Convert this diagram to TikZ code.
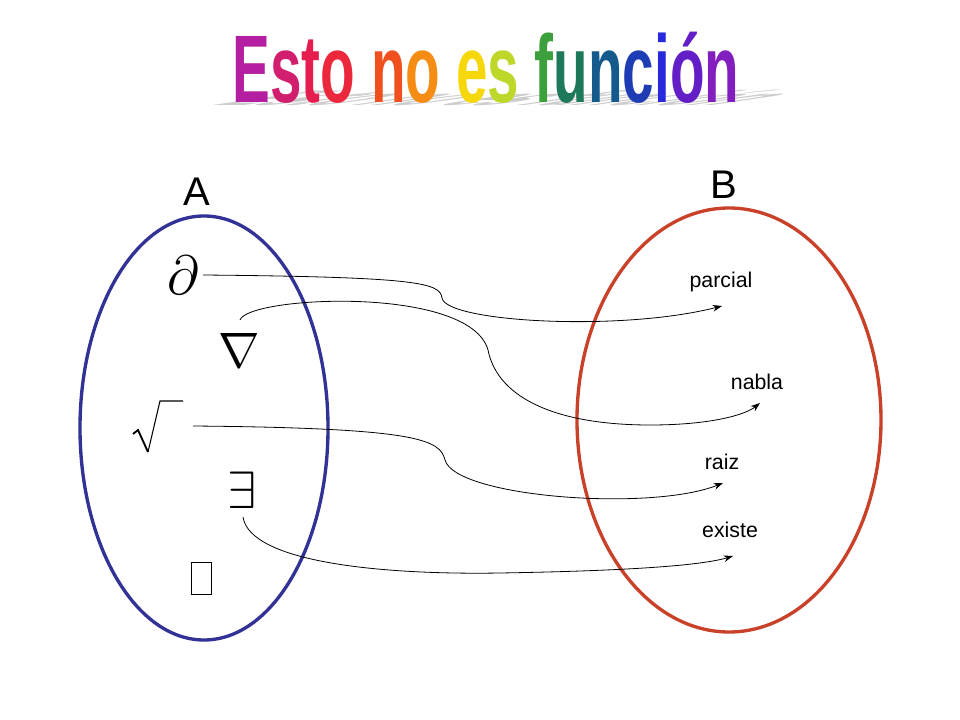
\documentclass[tikz,border=0pt]{standalone}
\usepackage{fontspec}
\setmainfont{Liberation Sans}
\usetikzlibrary{arrows.meta}
\definecolor{ablue}{RGB}{50,50,150}
\definecolor{bred}{RGB}{200,65,40}
\newcommand{\ttl}[1]{{\fontsize{72}{72}\selectfont\bfseries #1}}
\newcommand{\colttl}{\ttl{\color[RGB]{180,30,160}E\color[RGB]{210,30,110}s\color[RGB]{230,30,80}t\color[RGB]{235,40,60}o\ \color[RGB]{240,80,30}n\color[RGB]{245,140,20}o\ \color[RGB]{245,215,10}e\color[RGB]{190,215,40}s\ \color[RGB]{60,160,60}f\color[RGB]{30,120,90}u\color[RGB]{20,90,140}n\color[RGB]{30,60,180}c\color[RGB]{40,40,220}i\color[RGB]{100,30,200}ó\color[RGB]{130,30,190}n}}
\tikzset{
  conn/.style={black,line width=0.6pt,-{Stealth[length=7pt,width=5pt]}},
  setlab/.style={font=\fontsize{30}{30}\selectfont},
  elem/.style={font=\fontsize{16}{16}\selectfont},
  sym/.style={font=\fontsize{20}{20}\selectfont}
}
\begin{document}
\begin{tikzpicture}[x=0.75pt,y=-0.75pt]
\useasboundingbox (0,0) rectangle (960,720);
\fill[white] (0,0) rectangle (960,720);
% title
\node[anchor=base,text=gray!40,inner sep=0] (tsh) at (462,106) [xscale=0.59,yscale=0.22,xslant=2.6] {\ttl{Esto no es función}};
\node[anchor=base,inner sep=0] (title) at (486,103) [xscale=0.59] {\colttl};
% sets
\draw[ablue,line width=2.5pt] (204,428) ellipse [x radius=124, y radius=212];
\draw[bred,line width=2.5pt] (729,420) ellipse [x radius=152, y radius=212];
\node[setlab] (A) at (197,192) {A};
\node[setlab] (B) at (724,185) {B};
% elements of A
\node[sym] (d) at (183,275) {\scalebox{2}{$\partial$}};
\node[sym] (nab) at (239,350) {\scalebox{1.8}{$\nabla$}};
\draw[line width=1.4pt] (133,434) -- (138,430) -- (148,452);
\draw[line width=0.8pt] (148,452) -- (160,401) -- (183,401);
\coordinate (sq) at (155,425);
\node[sym] (ex) at (242,490) {\scalebox{1.9}{$\exists$}};
\node[draw,line width=0.5pt,minimum width=15pt,minimum height=24pt,inner sep=0] (box) at (201,578) {};
% elements of B
\node[elem] (par) at (721,282) {parcial};
\node[elem] (nb) at (757,382) {nabla};
\node[elem] (rz) at (722,462) {raiz};
\node[elem] (es) at (730,530) {existe};
% connectors
\coordinate (c1) at (203,275);
\coordinate (e1) at (722,306);
\draw[conn] (c1) .. controls (420,277) and (440,283) .. (442,298) .. controls (446,322) and (620,332) .. (e1);
\coordinate (c2) at (240,320);
\coordinate (e2) at (760,403);
\draw[conn] (c2) .. controls (248,296) and (470,285) .. (488,350) .. controls (498,400) and (560,425) .. (650,425) .. controls (710,425) and (745,415) .. (e2);
\coordinate (c3) at (193,426);
\coordinate (e3) at (723,483);
\draw[conn] (c3) .. controls (420,428) and (440,440) .. (445,460) .. controls (455,497) and (650,512) .. (e3);
\coordinate (c4) at (243,517);
\coordinate (e4) at (733,556);
\draw[conn] (c4) .. controls (250,562) and (380,575) .. (500,573) .. controls (620,571) and (700,566) .. (e4);
\end{tikzpicture}
\end{document}
